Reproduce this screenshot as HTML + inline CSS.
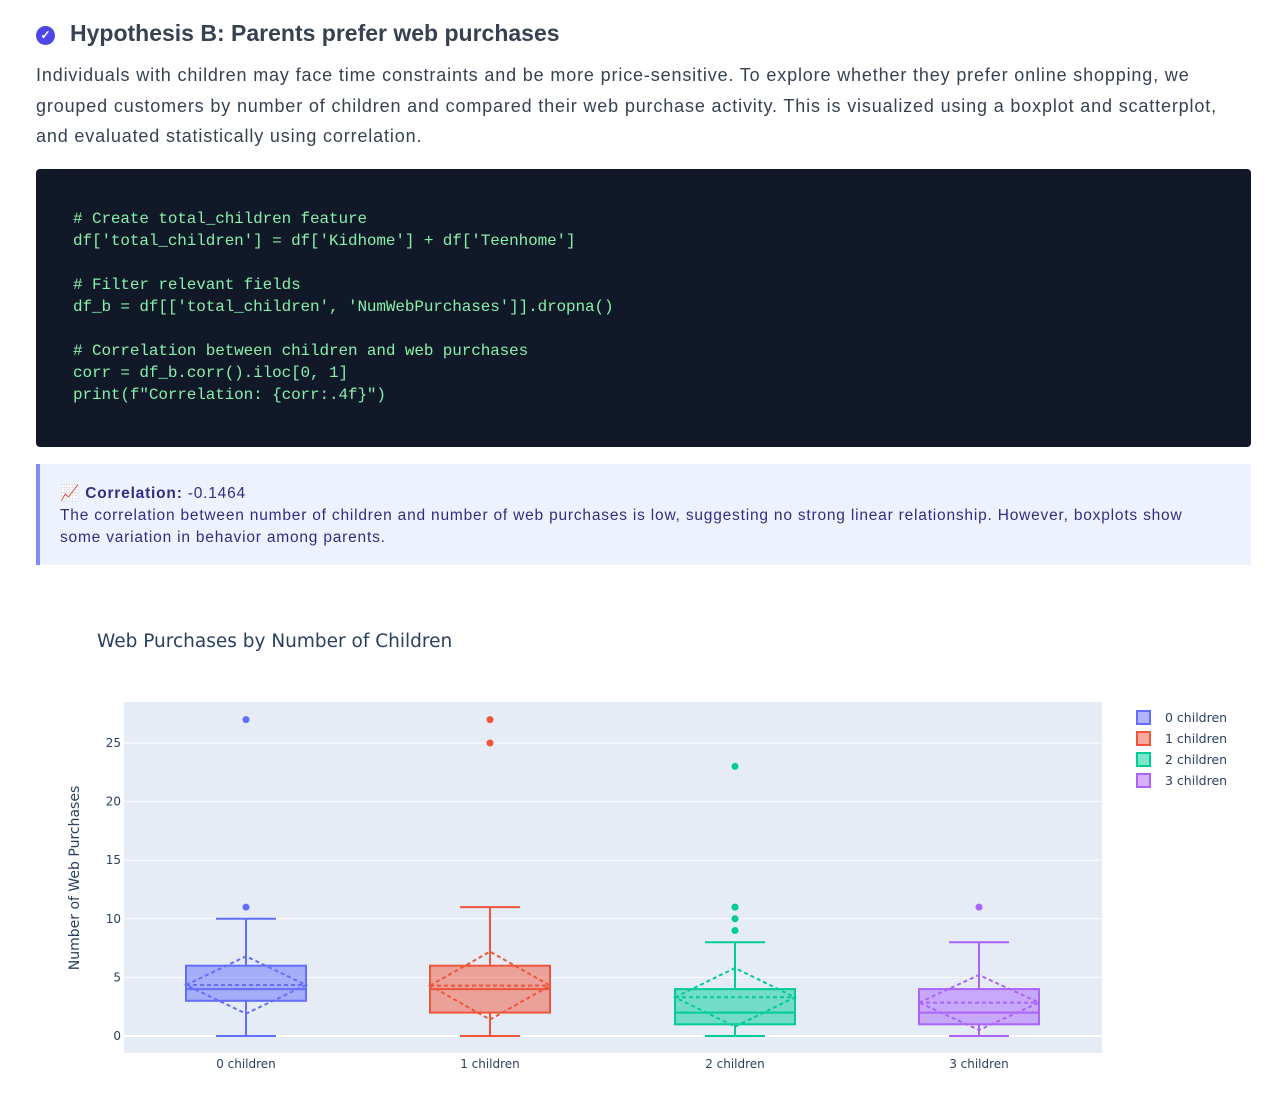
<!DOCTYPE html>
<html><head><meta charset="utf-8"><style>
*{margin:0;padding:0;box-sizing:border-box}
body{width:1288px;height:1116px;background:#fff;font-family:"Liberation Sans",sans-serif;position:relative;overflow:hidden;color:#374151}
.h{position:absolute;left:36px;top:20px;font-size:23px;font-weight:bold;color:#374151;white-space:nowrap;letter-spacing:0}
.h .ic{display:inline-block;width:19px;height:19px;border-radius:50%;background:#4f46e5;color:#fff;font-size:12px;text-align:center;line-height:19px;margin-right:15px;vertical-align:2px;letter-spacing:0}
.p{position:absolute;left:36px;top:60px;font-size:18px;line-height:30.5px;white-space:nowrap;color:#374151;letter-spacing:0.85px}
.code{position:absolute;left:36px;top:169px;width:1215px;height:278px;background:#111827;border-radius:4px;padding:39px 0 0 37px;font-family:"Liberation Mono",monospace;font-size:16px;line-height:22px;color:#86efac;white-space:pre;letter-spacing:-0.12px}
.call{position:absolute;left:36px;top:464px;width:1215px;height:101px;background:#eef2ff;border-left:4px solid #818cf8;padding:19px 0 0 20px;font-size:15.5px;line-height:22px;color:#312e81;white-space:nowrap;letter-spacing:0.8px}
</style></head><body>
<div class="h"><span class="ic">✓</span>Hypothesis B: Parents prefer web purchases</div>
<div class="p">Individuals with children may face time constraints and be more price-sensitive. To explore whether they prefer online shopping, we<br>grouped customers by number of children and compared their web purchase activity. This is visualized using a boxplot and scatterplot,<br>and evaluated statistically using correlation.</div>
<div class="code"># Create total_children feature
df['total_children'] = df['Kidhome'] + df['Teenhome']

# Filter relevant fields
df_b = df[['total_children', 'NumWebPurchases']].dropna()

# Correlation between children and web purchases
corr = df_b.corr().iloc[0, 1]
print(f"Correlation: {corr:.4f}")</div>
<div class="call"><span style="color:#dc2626">📈</span> <b>Correlation:</b> -0.1464<br>The correlation between number of children and number of web purchases is low, suggesting no strong linear relationship. However, boxplots show<br>some variation in behavior among parents.</div>
<svg width="1288" height="1116" style="position:absolute;left:0;top:0" font-family="DejaVu Sans, sans-serif">
<text x="97" y="647" font-size="18.5" fill="#2a3f5f">Web Purchases by Number of Children</text>
<rect x="124" y="702" width="978" height="351" fill="#e5ecf6"/>
<g stroke="#fff" stroke-width="1">
<line x1="124" x2="1102" y1="977.4" y2="977.4"/><line x1="124" x2="1102" y1="918.8" y2="918.8"/>
<line x1="124" x2="1102" y1="860.2" y2="860.2"/><line x1="124" x2="1102" y1="801.6" y2="801.6"/>
<line x1="124" x2="1102" y1="743" y2="743"/></g>
<line x1="124" x2="1102" y1="1036" y2="1036" stroke="#fff" stroke-width="2"/>
<g font-size="12" fill="#2a3f5f" text-anchor="end">
<text x="121" y="1040">0</text><text x="121" y="981.4">5</text><text x="121" y="922.8">10</text>
<text x="121" y="864.2">15</text><text x="121" y="805.6">20</text><text x="121" y="747">25</text></g>
<g font-size="12" fill="#2a3f5f" text-anchor="middle">
<text x="246" y="1068">0 children</text><text x="490" y="1068">1 children</text>
<text x="735" y="1068">2 children</text><text x="979" y="1068">3 children</text></g>
<text transform="translate(79,878) rotate(-90)" font-size="14" fill="#2a3f5f" text-anchor="middle">Number of Web Purchases</text>

<g stroke="#636efa" stroke-width="2" fill="none">
<rect x="186" y="965.7" width="120" height="35.1" fill="rgba(99,110,250,0.5)"/>
<line x1="186" x2="306" y1="989.1" y2="989.1"/>
<line x1="246" x2="246" y1="965.7" y2="918.8"/><line x1="216" x2="276" y1="918.8" y2="918.8"/>
<line x1="246" x2="246" y1="1000.8" y2="1036"/><line x1="216" x2="276" y1="1036" y2="1036"/>
<g stroke-dasharray="4,3"><line x1="186" x2="306" y1="985" y2="985"/><polygon points="186,985 246,956.3 306,985 246,1013.7"/></g>
</g>
<g fill="#636efa"><circle cx="246" cy="907.1" r="3.5"/><circle cx="246" cy="719.6" r="3.5"/></g>
<g stroke="#EF553B" stroke-width="2" fill="none">
<rect x="430" y="965.7" width="120" height="46.9" fill="rgba(239,85,59,0.5)"/>
<line x1="430" x2="550" y1="989.1" y2="989.1"/>
<line x1="490" x2="490" y1="965.7" y2="907.1"/><line x1="460" x2="520" y1="907.1" y2="907.1"/>
<line x1="490" x2="490" y1="1012.6" y2="1036"/><line x1="460" x2="520" y1="1036" y2="1036"/>
<g stroke-dasharray="4,3"><line x1="430" x2="550" y1="985.6" y2="985.6"/><polygon points="430,985.6 490,951.6 550,985.6 490,1019.6"/></g>
</g>
<g fill="#EF553B"><circle cx="490" cy="743" r="3.5"/><circle cx="490" cy="719.6" r="3.5"/></g>
<g stroke="#00cc96" stroke-width="2" fill="none">
<rect x="675" y="989.1" width="120" height="35.2" fill="rgba(0,204,150,0.5)"/>
<line x1="675" x2="795" y1="1012.6" y2="1012.6"/>
<line x1="735" x2="735" y1="989.1" y2="942.2"/><line x1="705" x2="765" y1="942.2" y2="942.2"/>
<line x1="735" x2="735" y1="1024.3" y2="1036"/><line x1="705" x2="765" y1="1036" y2="1036"/>
<g stroke-dasharray="4,3"><line x1="675" x2="795" y1="997.3" y2="997.3"/><polygon points="675,997.3 735,968 795,997.3 735,1026.6"/></g>
</g>
<g fill="#00cc96"><circle cx="735" cy="930.5" r="3.5"/><circle cx="735" cy="918.8" r="3.5"/><circle cx="735" cy="907.1" r="3.5"/><circle cx="735" cy="766.4" r="3.5"/></g>
<g stroke="#ab63fa" stroke-width="2" fill="none">
<rect x="919" y="989.1" width="120" height="35.2" fill="rgba(171,99,250,0.5)"/>
<line x1="919" x2="1039" y1="1012.6" y2="1012.6"/>
<line x1="979" x2="979" y1="989.1" y2="942.2"/><line x1="949" x2="1009" y1="942.2" y2="942.2"/>
<line x1="979" x2="979" y1="1024.3" y2="1036"/><line x1="949" x2="1009" y1="1036" y2="1036"/>
<g stroke-dasharray="4,3"><line x1="919" x2="1039" y1="1002.6" y2="1002.6"/><polygon points="919,1002.6 979,975 1039,1002.6 979,1030"/></g>
</g>
<g fill="#ab63fa"><circle cx="979" cy="907.1" r="3.5"/></g>
<g font-size="12.5" fill="#2a3f5f" stroke-width="2">
<rect x="1137" y="711" width="13" height="13" fill="rgba(99,110,250,0.5)" stroke="#636efa"/><text x="1165" y="722">0 children</text>
<rect x="1137" y="732" width="13" height="13" fill="rgba(239,85,59,0.5)" stroke="#EF553B"/><text x="1165" y="743">1 children</text>
<rect x="1137" y="753" width="13" height="13" fill="rgba(0,204,150,0.5)" stroke="#00cc96"/><text x="1165" y="764">2 children</text>
<rect x="1137" y="774" width="13" height="13" fill="rgba(171,99,250,0.5)" stroke="#ab63fa"/><text x="1165" y="785">3 children</text>
</g>
</svg>
</body></html>
